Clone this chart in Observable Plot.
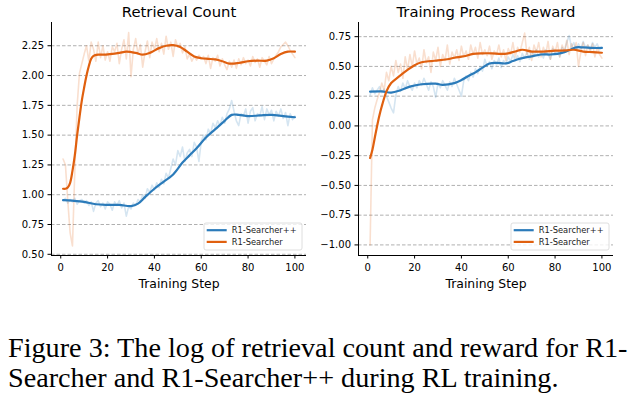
<!DOCTYPE html>
<html><head><meta charset="utf-8">
<script src="https://cdn.jsdelivr.net/npm/d3@7"></script>
<script src="https://cdn.jsdelivr.net/npm/@observablehq/plot@0.6"></script>
<style>
body{margin:0;background:#fff;width:636px;height:395px;overflow:hidden;position:relative;font-family:"DejaVu Sans",sans-serif}
#charts{position:absolute;left:0;top:0;display:flex}
.cap{position:absolute;left:8px;font-family:"Liberation Serif","Times New Roman",serif;font-size:28.2px;line-height:30px;white-space:nowrap;color:#000}
</style></head><body>
<div id="charts"></div>
<div class="cap" style="top:333px">Figure 3: The log of retrieval count and reward for R1-</div>
<div class="cap" style="top:363px">Searcher and R1-Searcher++ during RL training.</div>
<script>
// ---------- data ----------
const seriesNames = ["R1-Searcher++", "R1-Searcher"];
const seriesColors = ["#2b7bba", "#e0600f"];
const xTicks = [0, 20, 40, 60, 80, 100];
const steps = d3.range(1, 101);

// Retrieval Count – raw (per step)
const retrievalRawPP = [0.95,0.97,0.93,0.96,0.94,0.97,0.92,0.95,0.96,0.93,0.95,0.91,0.94,0.86,0.93,0.95,0.90,0.93,0.88,0.94,0.92,0.87,0.94,0.91,0.95,0.89,0.93,0.82,0.90,0.88,0.93,0.91,0.96,0.94,1.00,0.97,1.05,1.02,1.08,1.04,1.10,1.06,1.13,1.09,1.18,1.14,1.22,1.30,1.25,1.37,1.32,1.40,1.28,1.35,1.38,1.32,1.44,1.40,1.28,1.45,1.50,1.46,1.55,1.51,1.60,1.56,1.62,1.58,1.65,1.60,1.68,1.72,1.79,1.70,1.62,1.58,1.68,1.66,1.72,1.60,1.70,1.73,1.62,1.68,1.66,1.74,1.63,1.72,1.67,1.71,1.62,1.70,1.66,1.72,1.64,1.69,1.58,1.68,1.63,1.66];
const retrievalRawR1 = [1.30,1.25,0.95,0.68,0.57,1.20,1.75,2.02,2.10,2.18,2.25,2.12,2.28,2.22,2.12,2.28,2.15,2.25,2.13,2.20,2.12,2.24,2.20,2.27,2.10,2.22,2.30,2.14,2.36,1.99,2.22,2.31,2.18,2.26,2.07,2.20,2.29,2.15,2.28,2.22,2.31,2.20,2.27,2.18,2.33,2.22,2.28,2.16,2.30,2.24,2.27,2.19,2.24,2.14,2.18,2.12,2.16,2.13,2.17,2.14,2.16,2.10,2.17,2.06,2.15,2.12,2.17,2.08,2.14,2.09,2.05,2.12,2.07,2.13,2.06,2.14,2.09,2.15,2.10,2.13,2.08,2.16,2.11,2.14,2.07,2.15,2.12,2.09,2.16,2.10,2.14,2.17,2.20,2.24,2.26,2.28,2.25,2.21,2.18,2.15];
// Retrieval Count – smoothed
const retrievalSmoothPPSteps = [1,5,10,15,20,25,30,33,36,40,44,48,52,55,58,62,66,70,73,76,80,85,90,95,100];
const retrievalSmoothPP = [0.955,0.95,0.94,0.92,0.915,0.915,0.905,0.925,0.98,1.05,1.11,1.17,1.27,1.33,1.39,1.48,1.55,1.62,1.67,1.67,1.66,1.665,1.67,1.66,1.65];
const retrievalSmoothR1Steps = [1,2,3,4,5,6,7,8,9,10,11,12,13,14,16,18,21,25,28,32,35,38,42,45,48,51,54,57,60,63,66,69,72,76,80,84,88,91,94,97,100];
const retrievalSmoothR1 = [1.05,1.05,1.06,1.10,1.20,1.33,1.50,1.65,1.79,1.90,2.00,2.08,2.14,2.165,2.175,2.175,2.18,2.19,2.20,2.19,2.175,2.19,2.23,2.25,2.255,2.24,2.20,2.16,2.145,2.14,2.135,2.12,2.10,2.105,2.12,2.125,2.125,2.145,2.18,2.20,2.20];

// Training Process Reward – raw (per step)
const rewardRawPP = [0.26,0.32,0.27,0.30,0.33,0.28,0.31,0.25,0.20,0.15,0.11,0.26,0.33,0.29,0.36,0.31,0.38,0.33,0.30,0.36,0.32,0.38,0.34,0.40,0.35,0.30,0.37,0.33,0.24,0.36,0.32,0.38,0.34,0.30,0.37,0.33,0.40,0.35,0.30,0.25,0.38,0.42,0.38,0.45,0.41,0.48,0.44,0.50,0.46,0.56,0.50,0.54,0.48,0.55,0.51,0.57,0.49,0.55,0.52,0.58,0.54,0.60,0.55,0.59,0.54,0.61,0.57,0.62,0.56,0.63,0.59,0.64,0.58,0.62,0.57,0.64,0.60,0.56,0.65,0.61,0.63,0.58,0.66,0.62,0.70,0.76,0.66,0.70,0.64,0.69,0.65,0.71,0.66,0.68,0.64,0.70,0.66,0.69,0.64,0.66];
const rewardRawR1 = [-1.00,0.05,0.15,0.22,0.28,0.36,0.30,0.45,0.38,0.50,0.42,0.55,0.45,0.52,0.40,0.58,0.47,0.60,0.50,0.63,0.52,0.57,0.48,0.64,0.53,0.58,0.45,0.62,0.55,0.66,0.50,0.60,0.55,0.68,0.52,0.62,0.57,0.64,0.55,0.67,0.58,0.63,0.56,0.68,0.60,0.66,0.57,0.70,0.60,0.64,0.59,0.67,0.56,0.63,0.60,0.68,0.58,0.64,0.55,0.65,0.60,0.70,0.58,0.66,0.62,0.70,0.78,0.60,0.66,0.55,0.68,0.62,0.70,0.58,0.66,0.60,0.71,0.56,0.67,0.62,0.70,0.58,0.68,0.63,0.72,0.60,0.69,0.64,0.70,0.50,0.62,0.70,0.59,0.68,0.62,0.69,0.58,0.66,0.60,0.57];
// Training Process Reward – smoothed
const rewardSmoothPPSteps = [1,6,10,14,18,23,29,32,37,40,43,46,49,52,55,59,62,65,70,74,78,81,84,87,89,92,96,100];
const rewardSmoothPP = [0.288,0.29,0.28,0.30,0.33,0.35,0.355,0.345,0.36,0.385,0.42,0.45,0.49,0.525,0.53,0.525,0.545,0.565,0.585,0.60,0.60,0.605,0.62,0.645,0.66,0.66,0.655,0.655];
const rewardSmoothR1Steps = [1,2,3,4,5,6,8,10,13,17,20,23,27,30,34,37,41,45,49,53,57,60,63,66,70,75,80,85,88,92,96,100];
const rewardSmoothR1 = [-0.27,-0.2,-0.1,0.0,0.09,0.165,0.29,0.36,0.41,0.47,0.51,0.535,0.545,0.55,0.56,0.573,0.585,0.605,0.61,0.61,0.605,0.61,0.625,0.64,0.625,0.625,0.632,0.635,0.64,0.625,0.62,0.615];

const retrievalTicks = [0.50,0.75,1.00,1.25,1.50,1.75,2.00,2.25];
const rewardTicks = [-1.00,-0.75,-0.50,-0.25,0.00,0.25,0.50,0.75];

// ---------- chart ----------
const xDomain = [-3.95, 104.95];
function rows(xs, ys, s) { return xs.map((x, i) => ({step: x, value: ys[i], series: s})); }

function chart({title, yDomain, yTicks, raw, smooth, marginLeft, marginRight}) {
  const W = 318, H = 295, MT = 22, MB = 40;
  const rawRows = [...rows(steps, raw[0], 0), ...rows(steps, raw[1], 1)];
  const svg = Plot.plot({
    width: W, height: H, marginLeft, marginRight, marginTop: MT, marginBottom: MB,
    style: {fontFamily: "DejaVu Sans", fontSize: "10px", color: "#000", background: "#fff"},
    x: {domain: xDomain, label: null},
    y: {domain: yDomain, label: null},
    marks: [
      Plot.gridY(yTicks, {stroke: "#b0b0b0", strokeOpacity: 1, strokeDasharray: "3.5,2", strokeWidth: 1}),
      Plot.line(rawRows, {x: "step", y: "value", z: "series", stroke: d => seriesColors[d.series], strokeOpacity: 0.2, strokeWidth: 1.6}),
      Plot.line(rows(smooth[0][0], smooth[0][1], 0), {x: "step", y: "value", stroke: seriesColors[0], strokeWidth: 2.2, curve: "catmull-rom"}),
      Plot.line(rows(smooth[1][0], smooth[1][1], 1), {x: "step", y: "value", stroke: seriesColors[1], strokeWidth: 2.2, curve: "catmull-rom"}),
      Plot.ruleX([xDomain[0]], {stroke: "#000", strokeWidth: 1}),
      Plot.ruleY([yDomain[0]], {stroke: "#000", strokeWidth: 1}),
      Plot.axisX(xTicks, {tickSize: 3.5, tickPadding: 5, label: null, fontSize: 10}),
      Plot.axisY(yTicks, {tickSize: 3.5, tickPadding: 4, tickFormat: d3.format(".2f"), label: null, fontSize: 10}),
      Plot.text([title], {frameAnchor: "top", lineAnchor: "bottom", dy: -5.5, fontSize: 14.8}),
      Plot.text(["Training Step"], {frameAnchor: "bottom", lineAnchor: "bottom", dy: 32, fontSize: 12.4})
    ]
  });
  // legend
  const bw = 98, bh = 27;
  const g = d3.select(svg).append("g")
    .attr("text-anchor", "start")
    .attr("transform", `translate(${W - marginRight - 4 - bw},${H - MB - 5 - bh})`);
  g.append("rect").attr("width", bw).attr("height", bh).attr("rx", 2)
    .attr("fill", "#fff").attr("fill-opacity", 0.8).attr("stroke", "#d6d6d6").attr("stroke-width", 0.8);
  seriesNames.forEach((name, i) => {
    const y = 7.2 + i * 11.7;
    g.append("line").attr("x1", 2.7).attr("x2", 22.7).attr("y1", y).attr("y2", y)
      .attr("stroke", seriesColors[i]).attr("stroke-width", 2.2);
    g.append("text").attr("x", 27.7).attr("y", y).attr("dy", "0.35em").attr("text-anchor", "start")
      .attr("font-size", 8.3).attr("font-family", "DejaVu Sans").attr("fill", "#222").text(name);
  });
  return svg;
}

const host = document.getElementById("charts");
host.append(chart({
  title: "Retrieval Count", yDomain: [0.49, 2.445], yTicks: retrievalTicks,
  raw: [retrievalRawPP, retrievalRawR1],
  smooth: [[retrievalSmoothPPSteps, retrievalSmoothPP], [retrievalSmoothR1Steps, retrievalSmoothR1]],
  marginLeft: 51, marginRight: 12
}));
host.append(chart({
  title: "Training Process Reward", yDomain: [-1.089, 0.869], yTicks: rewardTicks,
  raw: [rewardRawPP, rewardRawR1],
  smooth: [[rewardSmoothPPSteps, rewardSmoothPP], [rewardSmoothR1Steps, rewardSmoothR1]],
  marginLeft: 40, marginRight: 23
}));
</script>
</body></html>
